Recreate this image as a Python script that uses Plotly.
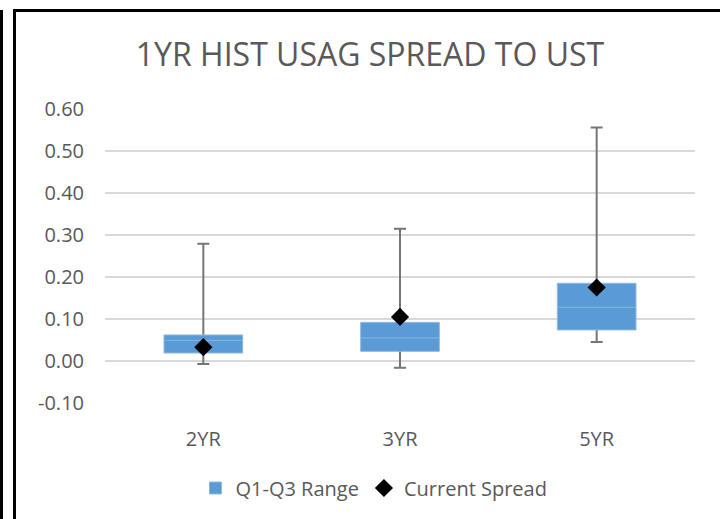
import plotly.graph_objects as go

categories = ["2YR", "3YR", "5YR"]
low = [-0.007, -0.016, 0.045]
q1 = [0.019, 0.023, 0.074]
median = [0.049, 0.055, 0.128]
q3 = [0.062, 0.092, 0.185]
high = [0.279, 0.315, 0.556]
current = [0.033, 0.105, 0.175]
ytick_vals = [-0.1, 0.0, 0.1, 0.2, 0.3, 0.4, 0.5, 0.6]
ytick_labels = ["-0.10", "0.00", "0.10", "0.20", "0.30", "0.40", "0.50", "0.60"]

FONT = "Open Sans"
TXT = "#595959"

fig = go.Figure()

# whiskers (drawn first so the box covers them)
fig.add_trace(go.Bar(
    x=categories, y=median, width=0.01,
    marker=dict(color="rgba(0,0,0,0)", line=dict(width=0)),
    error_y=dict(type="data", symmetric=False,
                 array=[h - m for h, m in zip(high, median)],
                 arrayminus=[m - l for m, l in zip(median, low)],
                 color="#767676", thickness=2, width=6),
    showlegend=False, hoverinfo="skip"))

# Q1-Q3 box
fig.add_trace(go.Bar(
    x=categories, y=[b - a for a, b in zip(q1, q3)], base=q1, width=0.4,
    marker=dict(color="#5B9BD5", line=dict(color="#8DB8E2", width=1)),
    name="Q1-Q3 Range"))

# median line
fig.add_trace(go.Scatter(
    x=categories, y=median, mode="markers",
    marker=dict(symbol="line-ew", size=56, line=dict(color="#86B5E1", width=1)),
    showlegend=False, hoverinfo="skip"))

# current spread
fig.add_trace(go.Scatter(
    x=categories, y=current, mode="markers",
    marker=dict(symbol="diamond", size=14, color="black"),
    name="Current Spread"))

L, R, T, B = 105, 25, 109, 116
W, H = 720, 519
pw, ph = W - L - R, H - T - B


def px(x):
    return (x - L) / pw


def py(y):
    return (H - B - y) / ph


shapes = [
    dict(type="line", xref="paper", yref="paper", x0=px(14.5), x1=px(14.5), y0=py(10.5), y1=py(525),
         line=dict(color="black", width=3)),
    dict(type="line", xref="paper", yref="paper", x0=px(13), x1=px(725), y0=py(10.5), y1=py(10.5),
         line=dict(color="black", width=3)),
    dict(type="line", xref="paper", yref="paper", x0=px(1.5), x1=px(1.5), y0=py(10), y1=py(525),
         line=dict(color="black", width=3)),
]

fig.update_layout(
    width=W, height=H,
    margin=dict(l=L, r=R, t=T, b=B),
    paper_bgcolor="white", plot_bgcolor="white",
    barmode="overlay",
    font=dict(family=FONT, color=TXT, size=20),
    title=dict(text="1YR HIST USAG SPREAD TO UST", x=370 / W, xanchor="center",
               y=1 - 55 / H, yanchor="middle", xref="container", yref="container",
               font=dict(family=FONT, size=32, color=TXT)),
    xaxis=dict(showgrid=False, zeroline=False, showline=False, ticks="",
               tickfont=dict(size=20, color=TXT), ticklabelstandoff=22),
    yaxis=dict(range=[-0.1, 0.6], tickvals=ytick_vals, ticktext=ytick_labels,
               showgrid=True, gridcolor="#D9D9D9", gridwidth=1.5, zeroline=False,
               showline=False, ticks="", tickfont=dict(size=20, color=TXT),
               ticklabelstandoff=20),
    legend=dict(orientation="h", x=px(374), xanchor="center", y=py(488), yanchor="middle",
                font=dict(size=20, color=TXT), bgcolor="rgba(0,0,0,0)"),
    shapes=shapes,
)

fig.write_html("out.html", config={"displayModeBar": False},
               post_script="document.body.style.margin='0';document.body.style.padding='0';"
                           "document.body.style.overflow='hidden';")
